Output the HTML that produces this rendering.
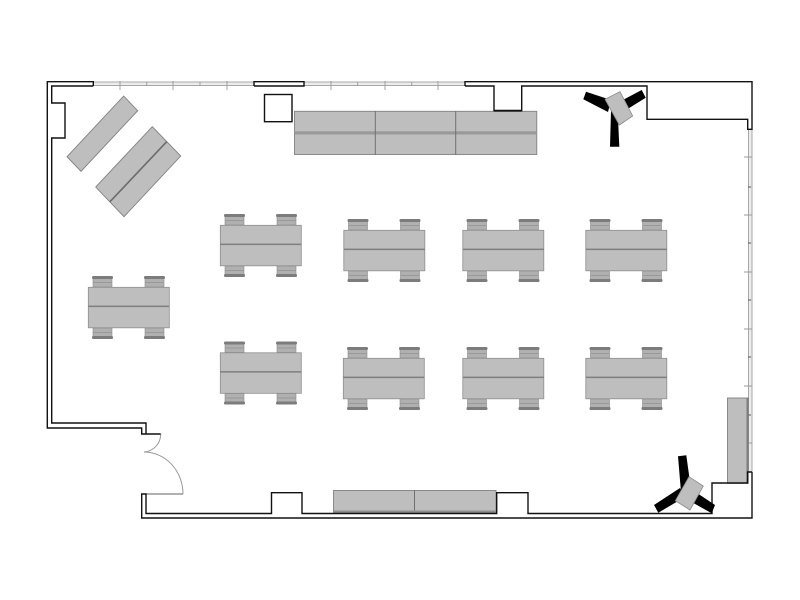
<!DOCTYPE html>
<html>
<head>
<meta charset="utf-8">
<style>
html,body{margin:0;padding:0;background:#fff}
svg{display:block}
</style>
</head>
<body>
<svg width="800" height="600" viewBox="0 0 800 600" xmlns="http://www.w3.org/2000/svg">
<defs>
  <g id="chair">
    <rect x="1" y="2" width="19" height="9" fill="#b0b0b0" stroke="#8a8a8a" stroke-width="0.6"/>
    <rect x="1" y="6" width="19" height="1" fill="#999"/>
    <rect x="0" y="0" width="21" height="3" rx="1.4" fill="#7c7c7c"/>
  </g>
  <g id="desk">
    <use href="#chair" x="4" y="-11"/>
    <use href="#chair" x="56" y="-11"/>
    <use href="#chair" transform="translate(4,52) scale(1,-1)"/>
    <use href="#chair" transform="translate(56,52) scale(1,-1)"/>
    <rect x="0.3" y="0.3" width="81" height="40.5" fill="#bebebe" stroke="#8e8e8e" stroke-width="0.8"/>
    <rect x="0.3" y="18.6" width="81" height="1.5" fill="#7f7f7f"/>
  </g>
</defs>

<!-- windows -->
<rect x="93" y="82" width="161" height="3.5" fill="#ececec"/>
<rect x="304" y="82" width="161" height="3.5" fill="#ececec"/>
<rect x="748.5" y="129" width="3.5" height="343" fill="#ececec"/>
<g fill="none" stroke="#a8a8a8" stroke-width="1">
  <path d="M93 82H254M93 85.5H254M304 82H465M304 85.5H465"/>
  <path d="M748.5 129V472M752 129V472"/>
</g>
<g stroke="#999" stroke-width="0.9" fill="none">
  <path d="M120 81V90M173 81V90M227 81V90M331 81V90M385 81V90M438 81V90"/>
  <path d="M146.7 82V86M200 82V86M357.7 82V86M411.7 82V86"/>
  <path d="M744 157H752M744 215H752M744 272H752M744 329H752M744 386H752M744 443H752"/>
</g>
<g stroke="#555" stroke-width="0.9" fill="none">
  <path d="M748 187H751M748 243H751M748 300H751M748 357H751M748 415H751"/>
</g>

<!-- door -->
<g fill="none" stroke="#999" stroke-width="1">
  <path d="M160.7 434A18 18 0 0 1 144 452"/>
  <path d="M144 452A39 42 0 0 1 183 494"/>
</g>
<path d="M146 494H183" stroke="#808080" stroke-width="1.3" fill="none"/>

<!-- furniture -->
<g fill="#bebebe" stroke="#808080" stroke-width="0.9">
  <polygon points="123.7,96 137.7,110.7 81,171.3 67,156.7"/>
  <polygon points="152.3,126.7 180.7,156 124,216.7 95.7,187"/>
  <rect x="294.5" y="111.3" width="242.3" height="43.2"/>
  <rect x="333.5" y="490.5" width="162.5" height="22.5"/>
  <rect x="727.5" y="398" width="20.8" height="85.3"/>
</g>
<path d="M166.7 141.7L110 201.7" stroke="#6c6c6c" stroke-width="1.6" fill="none"/>
<rect x="294.5" y="131.3" width="242.3" height="3.2" fill="#999"/>
<path d="M375.3 111V155M455.7 111V155M414.5 490V513" stroke="#707070" stroke-width="1" fill="none"/>
<rect x="333.5" y="510.5" width="162.5" height="2.5" fill="#8e8e8e"/>
<rect x="746.5" y="398" width="2" height="85" fill="#7c7c7c"/>

<use href="#desk" x="220" y="225"/>
<use href="#desk" x="343.5" y="230"/>
<use href="#desk" x="462.5" y="230"/>
<use href="#desk" x="585.5" y="230"/>
<use href="#desk" x="88" y="287"/>
<use href="#desk" x="220" y="352.5"/>
<use href="#desk" x="343" y="358"/>
<use href="#desk" x="462.5" y="358"/>
<use href="#desk" x="585.5" y="358"/>

<!-- walls -->
<g fill="none" stroke="#111" stroke-width="1.4">
  <path d="M93.3 86V81.7H47.3V428H141.7V434H160.7"/>
  <path d="M93.3 86H51.7V103H65V138H51.7V423H146V434"/>
  <path d="M254 86V81.7H304V86H254"/>
  <path d="M465 86V81.7H752V129.3H747.7V119.3H647V86H521.7V110.7H494V86H465"/>
  <path d="M752 472V518H141.7V494H146V513.5H271.5V492.7H302V513.5H496.7V492.7H528V513.5H712V483H747.5V472H752"/>
  <rect x="264.5" y="94.5" width="27.5" height="27.2" fill="#fff"/>
</g>
<path d="M494 110.7H521.7" stroke="#111" stroke-width="1.8" fill="none"/>

<!-- projector stands -->
<g fill="#000">
  <polygon points="586,91.7 583.3,99.3 608,112 611,100"/>
  <polygon points="641.7,90 645.7,97.7 626,110 621,101"/>
  <polygon points="610,146.7 619.3,146.7 618,118 611,111"/>
  <polygon points="678,456.3 686.3,455.3 690,482 681,492"/>
  <polygon points="654,505 658.3,512.7 685,497 680,488"/>
  <polygon points="715,505 711.7,513.3 688,500 694,491"/>
</g>
<g fill="#bebebe" stroke="#8a8a8a" stroke-width="0.8">
  <polygon points="620,91.7 632.7,116 619.3,125 605,99.3"/>
  <polygon points="689,476.7 703.3,486 690,510 675.3,500.7"/>
</g>
</svg>
</body>
</html>
